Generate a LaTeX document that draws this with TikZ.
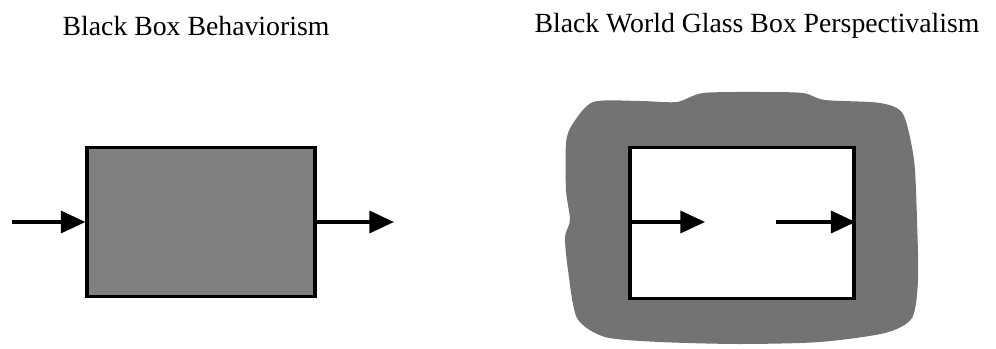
\documentclass[tikz,border=0pt]{standalone}
\usepackage{fontspec}
\setmainfont{Liberation Serif}
\usetikzlibrary{arrows.meta,positioning}

\begin{document}
\begin{tikzpicture}[x=0.02cm, y=-0.02cm,
  caja/.style={draw, line width=1.8pt, inner sep=0pt},
  flecha/.style={line width=2pt, -{Triangle[length=14pt, width=12.5pt]}},
  titulo/.style={font=\fontsize{15.8}{18}\selectfont}]

  \useasboundingbox (0,0) rectangle (996,348);

  % Titulos
  \node[titulo] (t1) at (196,26) {Black Box Behaviorism};
  \node[titulo] (t2) at (757,26) {Black World Glass Box Perspectivalism};

  % Caja negra
  \node[caja, fill=black!50, minimum width=4.56cm, minimum height=2.98cm] (caja1) at (201,222) {};
  \coordinate (ent) at (12,222);
  \coordinate (sal) at (394,222);
  \draw[flecha] (ent) -- (caja1.west);
  \draw[flecha] (caja1.east) -- (sal);

  % Mundo negro
  \fill[black!55] plot[smooth cycle, tension=0.45] coordinates {
    (593,102) (640,101) (677,102) (703,93) (760,92) (803,93) (825,100)
    (880,103) (903,114) (914,160) (917,220) (918,280) (912,318) (885,333)
    (820,342) (740,344) (660,342) (605,337) (577,318) (568,270) (565,237)
    (570,220) (566,190) (566,143) (572,125)};

  % Caja de cristal
  \node[caja, fill=white, minimum width=4.48cm, minimum height=3.02cm] (caja2) at (742,223) {};
  \coordinate (m1) at (705,222);
  \coordinate (m2) at (776,222);
  \draw[flecha] (caja2.west |- m1) -- (m1);
  \draw[flecha] (m2) -- (caja2.east |- m2);
\end{tikzpicture}
\end{document}
